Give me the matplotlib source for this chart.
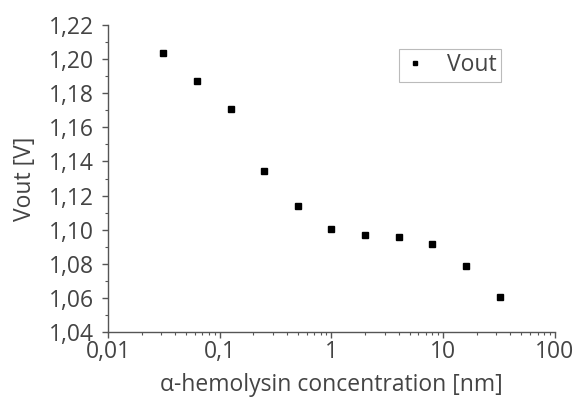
import matplotlib
matplotlib.use("Agg")
import matplotlib.pyplot as plt
from matplotlib.ticker import FuncFormatter, MultipleLocator, LogLocator, NullFormatter

plt.rcParams['font.family'] = ['Open Sans', 'DejaVu Sans']

# concentration [nm] and output voltage [V]
conc = [0.03125, 0.0625, 0.125, 0.25, 0.5, 1, 2, 4, 8, 16, 32]
vout = [1.2038, 1.1873, 1.1709, 1.1342, 1.1138, 1.1005, 1.0970, 1.0960, 1.0918, 1.0789, 1.0605]

x_ticks = [0.01, 0.1, 1, 10, 100]
x_labels = ['0,01', '0,1', '1', '10', '100']

txt = '#444444'
fs = 16.5
fig = plt.figure(figsize=(5.81, 4.03), dpi=100)
ax = fig.add_axes([0.186, 0.176, 0.769, 0.762])

ax.plot(conc, vout, 's', color='black', markersize=4.2, label='Vout')

ax.set_xscale('log')
ax.set_xlim(0.01, 100)
ax.set_ylim(1.04, 1.22)
ax.set_xticks(x_ticks)
ax.set_xticklabels(x_labels)
ax.xaxis.set_minor_locator(LogLocator(base=10, subs=range(2, 10)))
ax.xaxis.set_minor_formatter(NullFormatter())
ax.yaxis.set_major_locator(MultipleLocator(0.02))
ax.yaxis.set_minor_locator(MultipleLocator(0.01))
ax.yaxis.set_major_formatter(FuncFormatter(lambda v, p: ('%.2f' % v).replace('.', ',')))

for s in ['top', 'right']:
    ax.spines[s].set_visible(False)
for s in ['left', 'bottom']:
    ax.spines[s].set_color('#555555')
    ax.spines[s].set_linewidth(1.0)

ax.tick_params(which='major', length=4, width=1, color='#555555', labelsize=fs, labelcolor=txt, pad=2)
ax.tick_params(axis='y', which='major', pad=6)
ax.tick_params(which='minor', length=2.5, width=0.8, color='#555555')

ax.set_xlabel('\u03b1-hemolysin concentration [nm]', fontsize=fs, color=txt, labelpad=6)
ax.set_ylabel('Vout [V]', fontsize=fs, color=txt, labelpad=9)

leg = ax.legend(loc='upper left', bbox_to_anchor=(0.625, 0.96), fontsize=fs, frameon=True,
                fancybox=False, handletextpad=0.9, handlelength=1.0, borderpad=0.2,
                markerscale=0.8)
leg.get_frame().set_edgecolor('#aaaaaa')
leg.get_frame().set_linewidth(0.8)
for t in leg.get_texts():
    t.set_color(txt)

fig.savefig('out.png', dpi=100)
